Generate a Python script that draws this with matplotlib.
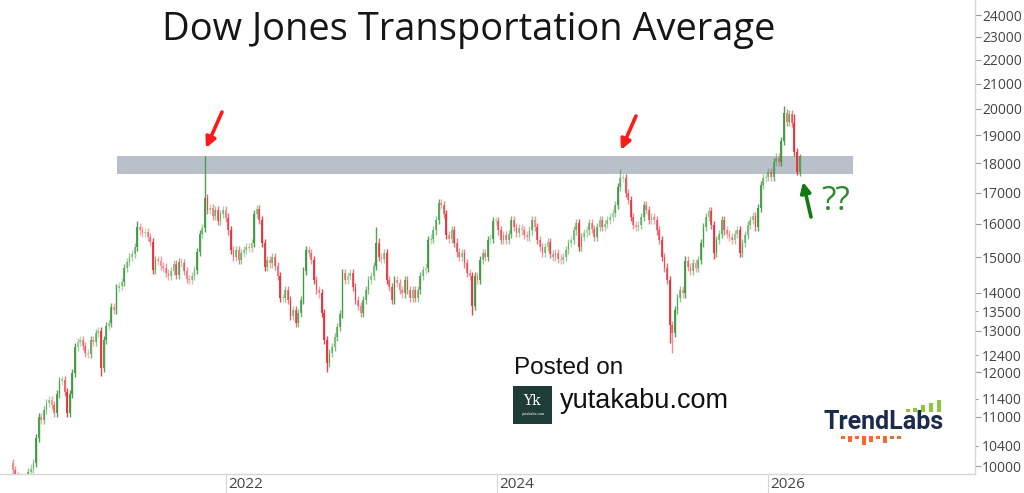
import numpy as np
import pandas as pd
import matplotlib
matplotlib.use("Agg")
import matplotlib.pyplot as plt
import matplotlib.dates as mdates
from matplotlib.patches import Rectangle
from matplotlib.ticker import FixedLocator, FixedFormatter

plt.rcParams['font.family'] = ['Open Sans', 'DejaVu Sans']

# weekly candles (close of each week)
start_date = "2020-06-05"
first_open = 10060
closes = [
    9930, 9800, 9650, 9550, 9600, 9700, 9880, 9950, 10060, 10560,
    10990, 10930, 11150, 11300, 11360, 11250, 11090, 11500, 11800, 11820,
    11550, 11090, 11500, 11980, 12600, 12720, 12770, 12620, 12460, 12430,
    12770, 12720, 12940, 12990, 12100, 12770, 13120, 13200, 13620, 13540,
    14130, 14180, 14300, 14690, 14850, 15000, 15100, 15300, 15900, 15800,
    15720, 15740, 15600, 15450, 14630, 14920, 14900, 14750, 14700, 14540,
    14460, 14600, 14800, 14500, 14850, 14830, 14600, 14380, 14350, 14460,
    14630, 15150, 15700, 15870, 16820, 16440, 16500, 16250, 16440, 16080,
    16300, 16440, 16200, 15800, 15210, 15000, 15210, 14920, 15120, 15210,
    15300, 15270, 15420, 16300, 16470, 16120, 15420, 14720, 14920, 14820,
    15000, 14750, 14460, 13860, 13860, 14070, 13800, 13390, 13540, 13200,
    13450, 13800, 14600, 15210, 15120, 14920, 14350, 14070, 13980, 13450,
    12770, 12210, 12450, 12600, 12850, 13100, 13430, 14540, 14350, 14460,
    14540, 14160, 13800, 13650, 13450, 13800, 14070, 14350, 14460, 14750,
    15430, 15000, 14960, 15120, 14350, 14160, 13800, 14350, 14270, 14070,
    13980, 14350, 14070, 13860, 14070, 13860, 14070, 14460, 14630, 14700,
    15500, 15550, 15800, 16120, 16650, 16600, 16300, 15650, 15550, 15800,
    15430, 15140, 15000, 15120, 14820, 14540, 14460, 13650, 14460, 14350,
    14920, 15120, 15000, 15500, 15550, 16080, 16080, 15800, 15500, 15650,
    15500, 15700, 16120, 15900, 15720, 15860, 15800, 15650, 15600, 15800,
    16120, 15900, 15500, 15300, 15120, 15300, 15450, 15100, 15000, 15120,
    14960, 14920, 15000, 15210, 15420, 15500, 15800, 16030, 15300, 15600,
    15720, 15800, 16030, 15850, 15600, 15900, 16120, 15900, 16000, 16120,
    16220, 16350, 16600, 17200, 17480, 17500, 16990, 16760, 16220, 15970,
    15900, 15970, 16220, 16600, 16440, 16120, 16220, 16120, 15800, 15500,
    15000, 14700, 14350, 13150, 12950, 13540, 13860, 14070, 13980, 14900,
    14720, 14600, 14820, 14700, 14920, 15420, 15900, 16220, 16400, 15970,
    15120, 15500, 15700, 16120, 15800, 15700, 15600, 15500, 15700, 15800,
    15120, 15420, 15650, 15970, 16120, 16250, 15900, 16500, 17250, 17480,
    17530, 17700, 17530, 18050, 18200, 18050, 18800, 19850, 19500, 19800,
    19450, 18400, 17700, 18250,
]
# long wicks that stand out on the chart (week index -> price)
marked_highs = {74: 18250, 48: 16100, 140: 15900, 164: 16800, 234: 17800,
                297: 20100, 301: 19800, 303: 18330}
marked_lows = {34: 11900, 121: 12000, 177: 13400, 253: 12700, 254: 12450,
               270: 14950, 302: 17600}

zone_low, zone_high = 17630, 18260
zone_start, zone_end = "2021-03-13", "2026-08-18"

major_ticks = [10000, 11000, 12000, 13000, 14000, 15000, 16000, 17000, 18000,
               19000, 20000, 21000, 22000, 23000, 24000, 25000]
minor_ticks = [10400, 11400, 12400, 13500]
year_ticks = ["2022-01-01", "2024-01-01", "2026-01-01"]
year_labels = ["2022", "2024", "2026"]

title = "Dow Jones Transportation Average"

# ---- build candles ----
closes = np.array(closes, dtype=float)
opens = np.concatenate([[first_open], closes[:-1]])
dates = pd.date_range(start_date, periods=len(closes), freq="7D")
xd = mdates.date2num(dates)
top = np.maximum(opens, closes)
bot = np.minimum(opens, closes)
highs = top * 1.008
lows = bot * 0.992
for k, v in marked_highs.items():
    highs[k] = v
for k, v in marked_lows.items():
    lows[k] = v

up = closes >= opens
move = np.abs(closes - opens) / opens
alpha = np.clip(0.32 + move * 16, 0.32, 0.92)
green = np.array(matplotlib.colors.to_rgb("#3f9a3f"))
red = np.array(matplotlib.colors.to_rgb("#e8323c"))
cols = np.array([np.append(green if u else red, a) for u, a in zip(up, alpha)])

fig = plt.figure(figsize=(10.24, 4.93), dpi=100)
ax = fig.add_axes([0.0, 19 / 493, 975 / 1024, (474 + 20) / 493])
ax.set_yscale("log")

ax.add_patch(Rectangle((mdates.datestr2num(zone_start), zone_low),
                       mdates.datestr2num(zone_end) - mdates.datestr2num(zone_start),
                       zone_high - zone_low, facecolor="#b9c0ca",
                       edgecolor="none", zorder=1))

ax.vlines(xd, lows, highs, colors=cols, linewidth=1.0, zorder=2)
body_h = np.maximum(top - bot, top * 0.0025)
ax.bar(xd, body_h, bottom=bot, width=4.6, color=cols, linewidth=0, zorder=3)

ax.set_xlim(mdates.datestr2num("2020-05-02"), mdates.datestr2num("2027-07-13"))
ax.set_ylim(9846, 25690)

# axes styling
for s in ["top", "left"]:
    ax.spines[s].set_visible(False)
for s in ["bottom", "right"]:
    ax.spines[s].set_color("#d6d6d6")
    ax.spines[s].set_linewidth(1.0)

ax.yaxis.tick_right()
ax.yaxis.set_major_locator(FixedLocator(major_ticks))
ax.yaxis.set_major_formatter(FixedFormatter([str(t) for t in major_ticks]))
ax.yaxis.set_minor_locator(FixedLocator(minor_ticks))
ax.yaxis.set_minor_formatter(FixedFormatter([str(t) for t in minor_ticks]))
ax.tick_params(axis="y", which="major", length=4, width=0.8, color="#9a9a9a",
               labelsize=10, labelcolor="#444444", pad=1)
ax.tick_params(axis="y", which="minor", length=2, width=0.8, color="#9a9a9a",
               labelsize=10, labelcolor="#444444", pad=3)

ax.set_xticks(mdates.datestr2num(year_ticks))
ax.set_xticklabels(year_labels)
ax.tick_params(axis="x", which="major", length=14, width=0.8, color="#d6d6d6",
               labelsize=11, labelcolor="#444444", pad=-12)
offset = matplotlib.transforms.ScaledTranslation(2 / 100, 0, fig.dpi_scale_trans)
for lab in ax.get_xticklabels():
    lab.set_horizontalalignment("left")
    lab.set_transform(lab.get_transform() + offset)
ax.xaxis.set_minor_locator(FixedLocator([]))

# title
fig.text(469 / 1024, 1 - 30 / 493, title, ha="center", va="center",
         fontsize=27.4, color="#161616")

# arrows (figure pixels, origin bottom-left)
H = 493
def arrow(tail, tip, color):
    ax.annotate("", xy=(tip[0], H - tip[1]), xytext=(tail[0], H - tail[1]),
                xycoords="figure pixels", textcoords="figure pixels",
                arrowprops=dict(arrowstyle="-|>", color=color, lw=2.6,
                                mutation_scale=15, shrinkA=0, shrinkB=0))

arrow((222, 112), (206, 148), "#ff1a1a")
arrow((636, 116), (621, 150), "#ff1a1a")
arrow((811, 217), (803, 182), "#127a12")
fig.text(821 / 1024, 1 - 202 / H, "??", ha="left", va="center",
         fontsize=24, color="#2f8a2f")

# "Posted on" block
fig.text(514 / 1024, 1 - 368 / H, "Posted on", ha="left", va="center",
         fontsize=17.5, color="#111111", family="Liberation Sans")
fig.text(560 / 1024, 1 - 401 / H, "yutakabu.com", ha="left", va="center",
         fontsize=19.5, color="#111111", family="Liberation Sans")
fig.add_artist(Rectangle((513 / 1024, 1 - 424 / H), 39 / 1024, 38 / H,
                         transform=fig.transFigure, facecolor="#1f3d36",
                         edgecolor="none"))
fig.text(532.5 / 1024, 1 - 401 / H, "Yk", ha="center", va="center",
         fontsize=10, color="white", family="DejaVu Serif")
fig.text(532.5 / 1024, 1 - 414 / H, "yutakabu.com", ha="center", va="center",
         fontsize=2.3, color="white", family="DejaVu Serif")

# TrendLabs logo
fig.text(824 / 1024, 1 - 422 / H, "TrendLabs", ha="left", va="center",
         fontsize=18, fontweight="bold", color="#1c2b4a", family="Roboto")
g_x = [906, 913, 921, 929, 937]
g_h = [3, 4, 7, 9, 12]
for gx, gh in zip(g_x, g_h):
    fig.add_artist(Rectangle((gx / 1024, 1 - 412 / H), 3.5 / 1024, gh / H,
                             transform=fig.transFigure, facecolor="#8cc63e",
                             edgecolor="none"))
o_x = [841, 848, 855, 862, 869, 876, 883, 890, 897]
o_h = [3, 6, 3, 9, 6, 3, 7, 3, 3]
for ox, oh in zip(o_x, o_h):
    fig.add_artist(Rectangle((ox / 1024, 1 - (436 + oh) / H), 3.5 / 1024, oh / H,
                             transform=fig.transFigure, facecolor="#f26a2e",
                             edgecolor="none"))

fig.savefig("out.png", dpi=100)
